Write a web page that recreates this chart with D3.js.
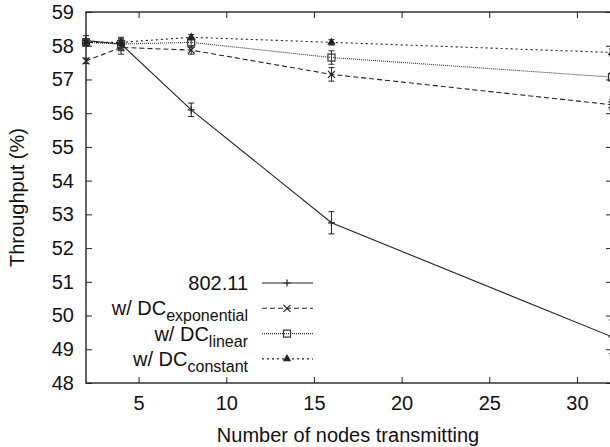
<!DOCTYPE html>
<html>
<head>
<meta charset="utf-8">
<script src="https://cdn.jsdelivr.net/npm/d3@7"></script>
<style>
  body { margin: 0; background: #fff; }
  text { font-family: "Liberation Sans", Arial, sans-serif; fill: #111; }
</style>
</head>
<body>
<svg id="chart" width="610" height="447"></svg>
<script>
// nodes transmitting
const nodes = [2, 4, 8, 16, 32];

const tp80211 = [58.15, 58.05, 56.1, 52.75, 49.37];
const err80211 = [0.15, 0.2, 0.2, 0.33, 0.5];

const tpExp = [57.55, 57.95, 57.87, 57.15, 56.25];
const errExp = [0.08, 0.2, 0.12, 0.2, 0.15];

const tpLin = [58.1, 58.05, 58.1, 57.65, 57.07];
const errLin = [0.1, 0.15, 0.15, 0.2, 0.12];

const tpConst = [58.1, 58.1, 58.25, 58.1, 57.8];
const errConst = [0.1, 0.1, 0.08, 0.08, 0.1];

const xTicks = [5, 10, 15, 20, 25, 30];
const yTicks = [48, 49, 50, 51, 52, 53, 54, 55, 56, 57, 58, 59];

const series = [
  { name: '802.11', sub: null, values: tp80211, errors: err80211, dash: null, marker: 'plus', color: '#222' },
  { name: 'w/ DC', sub: 'exponential', values: tpExp, errors: errExp, dash: '5,3', marker: 'cross', color: '#222' },
  { name: 'w/ DC', sub: 'linear', values: tpLin, errors: errLin, dash: '1,1', marker: 'square', color: '#333' },
  { name: 'w/ DC', sub: 'constant', values: tpConst, errors: errConst, dash: '2,3', marker: 'triangle', color: '#222' },
];

const margin = { top: 12, right: -2, bottom: 64, left: 86 };
const W = 610, H = 447;
const width = W - margin.left - margin.right;
const height = H - margin.top - margin.bottom;

const svg = d3.select('#chart');
const chart = svg.append('g').attr('transform', `translate(${margin.left},${margin.top})`);

const x = d3.scaleLinear().domain([2, 32]).range([0, width]);
const y = d3.scaleLinear().domain([48, 59]).range([height, 0]);

// axes (ticks pointing inward, mirrored)
const axisStyle = (g) => {
  g.select('.domain').remove();
  g.selectAll('.tick line').attr('stroke', '#222');
  g.selectAll('.tick text').style('font-size', '20px').attr('fill', '#111');
};

chart.append('g')
  .attr('transform', `translate(0,${height})`)
  .call(d3.axisBottom(x).tickValues(xTicks).tickSizeInner(-6).tickSizeOuter(0).tickPadding(13))
  .call(axisStyle);
chart.append('g')
  .call(d3.axisTop(x).tickValues(xTicks).tickSizeInner(-6).tickSizeOuter(0).tickFormat(''))
  .call(axisStyle);
chart.append('g')
  .call(d3.axisLeft(y).tickValues(yTicks).tickSizeInner(-6).tickSizeOuter(0).tickPadding(12))
  .call(axisStyle);
chart.append('g')
  .attr('transform', `translate(${width},0)`)
  .call(d3.axisRight(y).tickValues(yTicks).tickSizeInner(-6).tickSizeOuter(0).tickFormat(''))
  .call(axisStyle);

chart.append('rect')
  .attr('width', width).attr('height', height)
  .attr('fill', 'none').attr('stroke', '#222').attr('stroke-width', 1.4);

// axis titles
svg.append('text')
  .attr('x', 348)
  .attr('y', 442)
  .attr('text-anchor', 'middle')
  .style('font-size', '20px')
  .text('Number of nodes transmitting');

svg.append('text')
  .attr('transform', `translate(24,${margin.top + height / 2}) rotate(-90)`)
  .attr('text-anchor', 'middle')
  .style('font-size', '20px')
  .text('Throughput (%)');

// marker drawing
function drawMarker(g, type, color) {
  const s = 3.5;
  if (type === 'plus') {
    g.append('path').attr('d', `M${-s},0H${s}M0,${-s}V${s}`).attr('stroke', color).attr('stroke-width', 1.2);
  } else if (type === 'cross') {
    g.append('path').attr('d', `M${-s},${-s}L${s},${s}M${-s},${s}L${s},${-s}`).attr('stroke', color).attr('stroke-width', 1.2);
  } else if (type === 'square') {
    g.append('rect').attr('x', -s).attr('y', -s).attr('width', 2 * s).attr('height', 2 * s)
      .attr('fill', 'none').attr('stroke', color).attr('stroke-width', 1.2);
  } else if (type === 'triangle') {
    g.append('path').attr('d', d3.symbol(d3.symbolTriangle, 30)()).attr('fill', color);
  }
}

const line = d3.line().x((d) => x(d[0])).y((d) => y(d[1]));

series.forEach((s) => {
  const pts = nodes.map((n, i) => [n, s.values[i], s.errors[i]]);
  const g = chart.append('g');
  g.append('path')
    .datum(pts)
    .attr('d', line)
    .attr('fill', 'none')
    .attr('stroke', s.color)
    .attr('stroke-width', 1.1)
    .attr('stroke-dasharray', s.dash);

  // error bars
  const eb = g.selectAll('.eb').data(pts).join('g').attr('class', 'eb')
    .attr('transform', (d) => `translate(${x(d[0])},0)`);
  eb.append('path')
    .attr('d', (d) => `M0,${y(d[1] - d[2])}V${y(d[1] + d[2])}M-3,${y(d[1] - d[2])}H3M-3,${y(d[1] + d[2])}H3`)
    .attr('stroke', s.color).attr('stroke-width', 1).attr('fill', 'none');

  g.selectAll('.mk').data(pts).join('g').attr('class', 'mk')
    .attr('transform', (d) => `translate(${x(d[0])},${y(d[1])})`)
    .each(function () { drawMarker(d3.select(this), s.marker, s.color); });
});

// legend
const legend = svg.append('g');
const legX = 248, legY0 = 283, legStep = 25.3;
series.forEach((s, i) => {
  const ly = legY0 + i * legStep;
  const t = legend.append('text')
    .attr('x', legX).attr('y', ly + 7)
    .attr('text-anchor', 'end')
    .style('font-size', '20px');
  t.append('tspan').text(s.name);
  if (s.sub) {
    t.append('tspan').attr('dy', 6).style('font-size', '16px').text(s.sub);
  }
  legend.append('path')
    .attr('d', `M262,${ly}H313`)
    .attr('stroke', s.color).attr('stroke-width', 1.1)
    .attr('stroke-dasharray', s.dash);
  drawMarker(legend.append('g').attr('transform', `translate(287,${ly})`), s.marker, s.color);
});
</script>
</body>
</html>
